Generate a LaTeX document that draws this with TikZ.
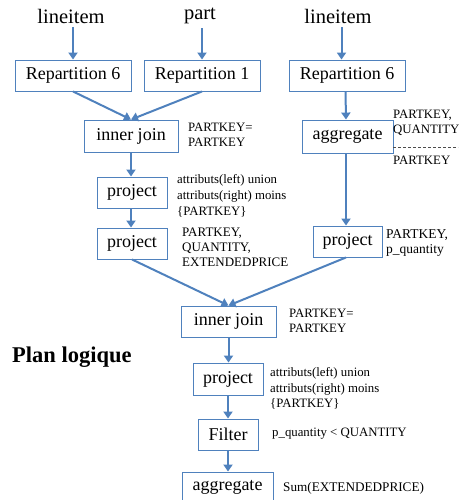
\documentclass[tikz,border=0pt]{standalone}
\usepackage{fontspec}
\setmainfont{Liberation Serif}
\usetikzlibrary{arrows.meta}
\definecolor{opblue}{RGB}{79,129,189}
\begin{document}
\begin{tikzpicture}[x=1pt,y=-1pt,
  opbox/.style={draw=opblue,line width=0.9pt,fill=white,inner sep=0pt,
    font=\fontsize{18}{20}\selectfont},
  srctitle/.style={font=\fontsize{20.5}{22}\selectfont,inner sep=0pt},
  lbl/.style={anchor=north west,align=left,inner sep=0pt,
    font=\fontsize{12.8}{14.5}\selectfont},
  lblw/.style={anchor=north west,align=left,inner sep=0pt,
    font=\fontsize{12.8}{15.5}\selectfont},
  arr/.style={draw=opblue,line width=2pt,
    -{Triangle[length=7pt,width=9pt]}}]
\useasboundingbox (0,0) rectangle (458,500);
\clip (0,0) rectangle (458,500);

% source tables
\node[srctitle] (t1) at (71,16) {lineitem};
\node[srctitle] (t2) at (200,16) {part};
\node[srctitle] (t3) at (338,16) {lineitem};

% operators
\node[opbox,minimum width=116,minimum height=31] (r1) at (73,75.5) {Repartition 6};
\node[opbox,minimum width=116,minimum height=31] (r2) at (202,75.5) {Repartition 1};
\node[opbox,minimum width=116,minimum height=31] (r3) at (347,75.5) {Repartition 6};
\node[opbox,minimum width=94,minimum height=32] (j1) at (131,136) {inner join};
\node[opbox,minimum width=91,minimum height=33] (a1) at (347.5,136.5) {aggregate};
\node[opbox,minimum width=70,minimum height=31] (p1) at (132,192.5) {project};
\node[opbox,minimum width=70,minimum height=31] (p2) at (132,243.5) {project};
\node[opbox,minimum width=69,minimum height=31] (p3) at (347.5,241.5) {project};
\node[opbox,minimum width=95,minimum height=31] (j2) at (228.5,321.5) {inner join};
\node[opbox,minimum width=70,minimum height=32] (p4) at (228,379) {project};
\node[opbox,minimum width=60,minimum height=31] (f1) at (228,434.5) {Filter};
\node[opbox,minimum width=91,minimum height=31] (a2) at (227.5,487.5) {aggregate};

% annotations
\node[lbl] (lj1) at (188,123) {PARTKEY=\\PARTKEY};
\node[lbl] (la1) at (393,110) {PARTKEY,\\QUANTITY};
\node[lbl] (la1b) at (393,156) {PARTKEY};
\draw[densely dashed,line width=0.5pt,draw=black!70] (393,147) -- (458,147);
\node[lblw,font=\fontsize{12.8}{16}\selectfont] (lp1) at (177,174) {attributs(left) union\\attributs(right) moins\\\{PARTKEY\}};
\node[lbl,font=\fontsize{13}{15}\selectfont] (lp2) at (182,228) {PARTKEY,\\QUANTITY,\\EXTENDEDPRICE};
\node[lbl,font=\fontsize{13.5}{15}\selectfont] (lp3) at (386,229.5) {PARTKEY,\\p\_quantity};
\node[lbl] (lj2) at (289,309) {PARTKEY=\\PARTKEY};
\node[lblw] (lp4) at (270,367.5) {attributs(left) union\\attributs(right) moins\\\{PARTKEY\}};
\node[lblw] (lf1) at (272,427.5) {p\_quantity < QUANTITY};
\node[lbl,font=\fontsize{13.2}{15}\selectfont] (la2) at (283,482.5) {Sum(EXTENDEDPRICE)};

\node[anchor=west,inner sep=0pt,font=\fontsize{22.5}{24}\selectfont\bfseries] (title) at (12,357) {Plan logique};

% data flow
\draw[arr] ([yshift=-4]r1.north |- t1.south) -- (r1.north);
\draw[arr] ([yshift=-4]r2.north |- t2.south) -- (r2.north);
\draw[arr] ([xshift=-5.5,yshift=-4]r3.north |- t3.south) -- ([xshift=-5.5]r3.north);
\draw[arr] (r1.south) -- (j1.north);
\draw[arr] (r2.south) -- (j1.north);
\draw[arr] ([xshift=-1.5]r3.south) -- ([xshift=-1.5]a1.north);
\draw[arr] (j1.south) -- ([xshift=-1]p1.north);
\draw[arr] ([xshift=-1]p1.south) -- ([xshift=-1]p2.north);
\draw[arr] ([xshift=-1.5]a1.south) -- ([xshift=-1.5]p3.north);
\draw[arr] (p2.south) -- (j2.north);
\draw[arr] ([xshift=-1.5]p3.south) -- (j2.north);
\draw[arr] (j2.south) -- ([xshift=0.5]p4.north);
\draw[arr] (p4.south) -- (f1.north);
\draw[arr] (f1.south) -- ([xshift=0.5]a2.north);
\end{tikzpicture}
\end{document}
